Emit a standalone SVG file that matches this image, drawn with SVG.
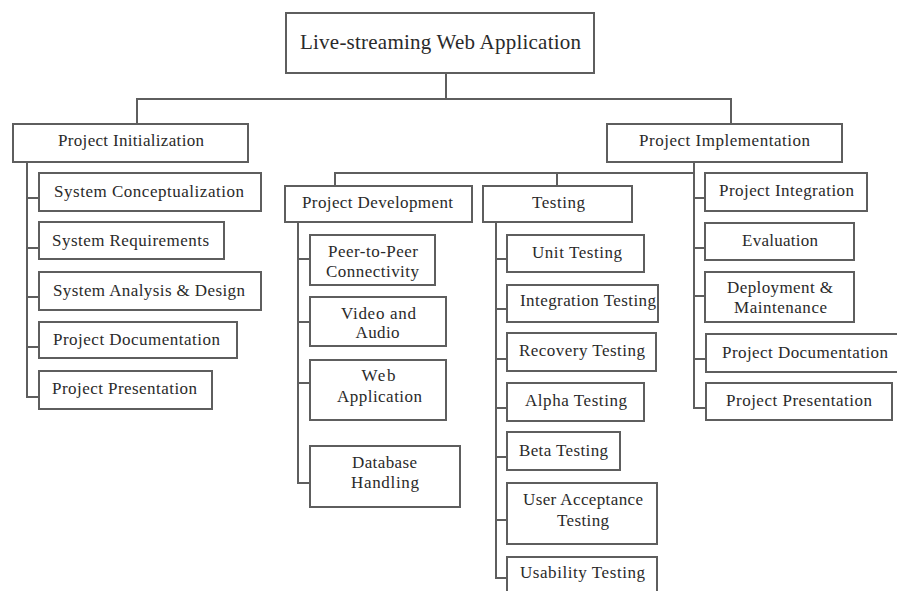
<svg xmlns="http://www.w3.org/2000/svg" width="897" height="591" viewBox="0 0 897 591">
<style>
.box{fill:#fff;stroke:#5e5e5e;stroke-width:2}
.ln{fill:none;stroke:#5e5e5e;stroke-width:2}
text{font-family:"Liberation Serif","Times New Roman",serif;font-size:17px;fill:#2a2a2a;text-anchor:middle}
.big{font-size:21px}
</style>
<rect width="897" height="591" fill="#fff"/>
<g id="connectors">
<path class="ln" d="M446 73V99M137 124V99H731V124"/>
<path class="ln" d="M27 162V397H39M27 198H39M27 248H39M27 297H39M27 347H39"/>
<path class="ln" d="M694 162V408H706M694 198H705M694 248H705M694 296H705M694 359H706M694 173H335V186M557 173V186"/>
<path class="ln" d="M298 222V483H310M298 259H310M298 322H310M298 383H310"/>
<path class="ln" d="M496 222V578H507M496 259H507M496 309H507M496 359H507M496 408H507M496 457H507M496 520H507"/>
</g>
<g id="root"><rect class="box" x="286" y="13" width="308" height="60"/><text class="big" x="440.5" y="49" textLength="281" lengthAdjust="spacing">Live-streaming Web Application</text></g>
<g id="project-initialization"><rect class="box" x="13" y="124" width="235" height="38"/><text x="131" y="146" textLength="146" lengthAdjust="spacing">Project Initialization</text></g>
<g id="project-implementation"><rect class="box" x="607" y="124" width="235" height="38"/><text x="724.5" y="146" textLength="171" lengthAdjust="spacing">Project Implementation</text></g>
<g id="system-conceptualization"><rect class="box" x="39" y="173" width="222" height="38"/><text x="149" y="197" textLength="190" lengthAdjust="spacing">System Conceptualization</text></g>
<g id="system-requirements"><rect class="box" x="39" y="222" width="185" height="37"/><text x="130.5" y="246" textLength="157" lengthAdjust="spacing">System Requirements</text></g>
<g id="system-analysis-design"><rect class="box" x="39" y="272" width="222" height="38"/><text x="149" y="296" textLength="192" lengthAdjust="spacing">System Analysis &amp; Design</text></g>
<g id="project-documentation-1"><rect class="box" x="39" y="322" width="198" height="36"/><text x="136.5" y="345" textLength="167" lengthAdjust="spacing">Project Documentation</text></g>
<g id="project-presentation-1"><rect class="box" x="39" y="371" width="173" height="38"/><text x="124.5" y="394" textLength="145" lengthAdjust="spacing">Project Presentation</text></g>
<g id="project-development"><rect class="box" x="285" y="186" width="187" height="36"/><text x="377.5" y="208" textLength="151" lengthAdjust="spacing">Project Development</text></g>
<g id="testing"><rect class="box" x="483" y="186" width="149" height="36"/><text x="558.5" y="208" textLength="53" lengthAdjust="spacing">Testing</text></g>
<g id="peer-to-peer"><rect class="box" x="310" y="235" width="125" height="50"/><text x="373" y="257" textLength="90" lengthAdjust="spacing">Peer-to-Peer</text><text x="372.5" y="277" textLength="93" lengthAdjust="spacing">Connectivity</text></g>
<g id="video-audio"><rect class="box" x="310" y="297" width="136" height="49"/><text x="378.5" y="319" textLength="75" lengthAdjust="spacing">Video and</text><text x="377.5" y="338" textLength="44" lengthAdjust="spacing">Audio</text></g>
<g id="web-application"><rect class="box" x="310" y="360" width="136" height="60"/><text x="378.5" y="381" textLength="34" lengthAdjust="spacing">Web</text><text x="379.5" y="402" textLength="85" lengthAdjust="spacing">Application</text></g>
<g id="database-handling"><rect class="box" x="310" y="446" width="150" height="61"/><text x="384.5" y="468" textLength="65" lengthAdjust="spacing">Database</text><text x="385" y="488" textLength="68" lengthAdjust="spacing">Handling</text></g>
<g id="unit-testing"><rect class="box" x="507" y="235" width="137" height="37"/><text x="577" y="258" textLength="90" lengthAdjust="spacing">Unit Testing</text></g>
<g id="integration-testing"><rect class="box" x="507" y="285" width="151" height="37"/><text x="588" y="306" textLength="136" lengthAdjust="spacing">Integration Testing</text></g>
<g id="recovery-testing"><rect class="box" x="507" y="333" width="149" height="38"/><text x="582" y="356" textLength="126" lengthAdjust="spacing">Recovery Testing</text></g>
<g id="alpha-testing"><rect class="box" x="507" y="383" width="137" height="38"/><text x="576" y="406" textLength="102" lengthAdjust="spacing">Alpha Testing</text></g>
<g id="beta-testing"><rect class="box" x="507" y="432" width="113" height="38"/><text x="563.5" y="456" textLength="89" lengthAdjust="spacing">Beta Testing</text></g>
<g id="user-acceptance-testing"><rect class="box" x="507" y="483" width="150" height="61"/><text x="583" y="505" textLength="120" lengthAdjust="spacing">User Acceptance</text><text x="583" y="526" textLength="52" lengthAdjust="spacing">Testing</text></g>
<g id="usability-testing"><rect class="box" x="507" y="557" width="150" height="40"/><text x="582.5" y="578" textLength="125" lengthAdjust="spacing">Usability Testing</text></g>
<g id="project-integration"><rect class="box" x="705" y="173" width="162" height="38"/><text x="786.5" y="196" textLength="135" lengthAdjust="spacing">Project Integration</text></g>
<g id="evaluation"><rect class="box" x="705" y="223" width="149" height="37"/><text x="780" y="246" textLength="76" lengthAdjust="spacing">Evaluation</text></g>
<g id="deployment-maintenance"><rect class="box" x="705" y="272" width="149" height="50"/><text x="780" y="293" textLength="106" lengthAdjust="spacing">Deployment &amp;</text><text x="780.5" y="313" textLength="93" lengthAdjust="spacing">Maintenance</text></g>
<g id="project-documentation-2"><rect class="box" x="706" y="334" width="196" height="38"/><text x="805" y="358" textLength="166" lengthAdjust="spacing">Project Documentation</text></g>
<g id="project-presentation-2"><rect class="box" x="706" y="383" width="186" height="37"/><text x="799" y="406" textLength="146" lengthAdjust="spacing">Project Presentation</text></g>
</svg>
